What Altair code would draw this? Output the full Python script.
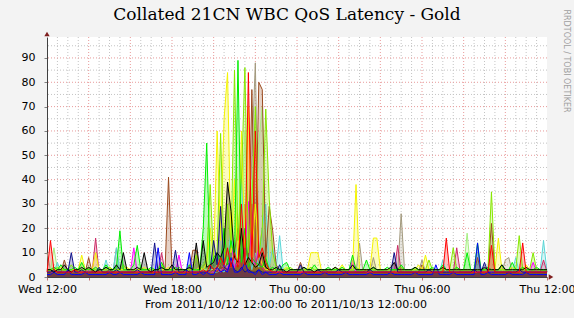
import altair as alt
import pandas as pd

title_text = "Collated 21CN WBC QoS Latency - Gold"
footer_text = "From 2011/10/12 12:00:00 To 2011/10/13 12:00:00"
side_text = "RRDTOOL / TOBI OETIKER"
x_tick_hours = [0, 6, 12, 18, 24]
x_tick_labels = ["Wed 12:00", "Wed 18:00", "Thu 00:00", "Thu 06:00", "Thu 12:00"]
x_small_ticks = [0, 2, 4, 6, 8, 10, 12, 14, 16, 18, 20, 22, 24]
y_ticks = [0, 10, 20, 30, 40, 50, 60, 70, 80, 90]
y_minor = [5, 15, 25, 35, 45, 55, 65, 75, 85, 95]
x_minor = [0.5, 1, 1.5, 2.5, 3, 3.5, 4.5, 5, 5.5, 6.5, 7, 7.5, 8.5, 9, 9.5, 10.5, 11, 11.5,
           12.5, 13, 13.5, 14.5, 15, 15.5, 16.5, 17, 17.5, 18.5, 19, 19.5, 20.5, 21, 21.5,
           22.5, 23, 23.5]
x_major = [2, 4, 6, 8, 10, 12, 14, 16, 18, 20, 22]
step_minutes = 10
Y_MAX = 98.6

# latency series, one value per 10 minutes from Wed 12:00 to Thu 12:00
khaki = [10,3,2,2,2,2,2,3,2,2,2,2,2,2,2,2,3,2,2,2,12,2,2,2,
         2,2,2,2,2,3,2,2,2,2,2,2,2,2,2,2,2,2,2,2,2,3,2,2,
         3,5,8,20,4,15,5,20,6,30,8,50,88,10,20,6,5,3,2,2,2,2,2,2,
         2,2,2,2,2,2,2,2,2,2,2,2,2,2,2,2,2,2,14,2,2,2,8,2,
         2,2,2,2,2,2,26,2,2,2,2,2,7,2,2,2,2,2,2,2,2,2,2,2,
         2,2,2,2,2,2,2,2,2,2,2,2,7,8,2,2,2,2,2,2,2,2,2,2,
         2]
palegreen = [3,3,12,3,3,3,3,3,3,3,3,3,3,3,3,3,3,3,3,3,3,3,3,3,
             3,3,3,3,3,3,3,3,3,3,3,3,3,3,3,3,3,3,3,10,3,3,3,3,
             3,3,5,3,8,4,15,5,25,60,6,40,10,55,70,10,3,3,3,3,3,3,3,3,
             3,3,3,3,3,3,3,3,3,3,3,3,3,3,3,3,3,3,3,3,3,3,3,3,
             3,3,3,3,3,3,3,3,3,3,3,3,3,3,3,3,3,3,3,3,3,3,3,3,
             3,18,3,3,3,3,3,3,3,3,3,3,3,3,3,3,3,3,3,3,3,3,3,3,
             3]
cyan = [2,2,2,6,2,2,2,2,2,2,2,2,2,2,2,2,2,7,2,2,12,2,2,2,
        2,2,2,2,2,2,2,2,2,2,2,2,2,2,2,2,2,2,2,2,2,2,2,2,
        2,2,3,2,5,20,4,15,41,5,12,3,10,4,20,30,4,12,4,17,3,2,2,2,
        2,2,2,2,2,2,2,2,2,2,2,2,2,2,2,2,2,2,2,2,2,2,2,2,
        2,2,2,2,2,2,2,2,2,2,2,2,2,2,2,2,2,2,7,2,2,2,2,2,
        2,2,2,2,2,2,2,2,2,2,2,2,2,2,2,8,2,2,2,2,2,2,2,15,
        2]
magenta = [2,2,2,2,2,2,2,2,2,2,2,2,3,2,2,2,2,2,2,2,2,2,2,2,
           2,12,2,2,2,2,2,2,2,2,2,2,2,2,9,2,2,2,2,2,2,2,2,2,
           2,3,2,5,3,15,4,6,8,10,31,8,5,12,4,2,2,2,2,2,2,2,2,2,
           2,2,2,2,2,2,2,2,2,2,2,2,2,2,2,2,7,2,2,2,2,2,2,2,
           2,2,2,2,2,2,2,2,2,2,2,2,2,2,2,2,2,2,2,2,2,2,2,2,
           2,2,2,2,2,2,2,2,2,2,2,2,2,2,2,2,2,2,2,2,6,2,2,2,
           2]
crimson = [2,2,2,2,2,2,2,2,2,2,2,2,2,2,16,2,2,2,2,2,2,2,2,2,
           2,2,2,2,2,2,2,2,2,10,2,2,2,2,2,2,2,2,2,2,2,2,2,2,
           2,3,2,4,2,6,3,8,3,20,4,30,5,10,4,2,2,2,2,2,2,2,2,2,
           2,2,2,2,2,2,2,2,2,2,2,2,2,2,2,2,2,2,2,2,2,2,2,2,
           2,2,2,2,2,13,2,2,2,2,2,2,2,2,2,2,2,2,2,2,2,2,12,2,
           2,2,2,2,2,2,2,2,2,2,2,2,2,2,2,2,2,2,2,2,2,2,2,7,
           2]
brown = [2,2,2,2,2,7,2,2,2,3,2,2,8,2,2,2,2,2,3,2,2,2,2,2,
         2,2,2,2,2,2,2,2,2,2,3,41,3,2,2,2,2,2,11,11,2,2,2,2,
         3,2,5,3,6,4,10,20,4,15,6,77,10,80,77,8,29,19,5,3,2,2,2,2,
         2,6,2,2,2,2,2,2,3,2,2,2,2,2,2,2,2,2,2,2,3,2,2,2,
         2,2,2,2,2,2,2,2,2,2,2,2,5,2,2,2,2,2,2,2,2,2,2,2,
         2,2,2,2,8,2,2,2,22,2,2,2,2,2,2,2,2,2,2,2,2,2,2,2,
         2]
yellow = [3,3,3,3,4,3,3,3,3,3,9,3,3,3,10,3,3,3,4,3,3,3,3,4,
          3,3,3,3,4,3,3,3,3,3,3,4,3,3,3,3,3,3,3,3,4,3,6,20,
          8,60,15,65,84,10,40,6,60,12,70,8,30,10,5,3,3,3,3,3,3,4,3,3,
          3,3,3,3,10,10,10,3,3,3,3,3,3,5,3,3,3,38,3,3,3,3,16,16,
          3,3,3,3,3,3,3,3,3,3,3,5,3,9,3,3,3,3,4,3,3,3,3,3,
          3,3,3,3,3,3,3,3,3,3,16,3,3,3,4,3,3,3,5,3,3,3,3,3,
          3]
lime = [3,3,3,4,3,3,3,5,3,3,3,3,4,3,3,3,3,3,4,3,3,3,5,3,
        3,3,3,4,3,3,3,3,3,5,3,3,3,3,4,3,3,3,3,9,3,5,8,38,
        6,10,59,8,30,12,85,15,40,86,10,30,70,8,20,69,32,10,4,3,3,3,4,3,
        3,3,3,3,4,3,3,3,3,3,3,4,3,3,3,3,3,4,3,3,3,3,3,3,
        3,3,3,3,3,3,4,3,3,3,3,3,3,3,7,3,3,3,3,3,3,12,3,3,
        3,3,3,3,3,3,3,3,35,3,3,3,3,3,3,3,17,3,3,3,10,3,3,3,
        3]
green = [3,3,4,3,5,3,3,3,4,3,6,3,3,3,4,3,3,5,3,3,4,19,3,3,
         3,5,13,3,3,3,4,3,3,6,3,3,3,4,3,3,3,5,3,3,3,20,55,4,
         8,10,6,20,5,15,8,89,6,20,4,8,6,5,4,8,3,4,3,3,5,6,3,3,
         3,3,4,3,3,5,3,3,3,4,3,3,3,4,3,3,9,3,3,3,7,3,4,3,
         3,3,4,3,3,3,5,3,3,3,4,3,3,3,3,4,3,3,5,3,3,3,4,3,
         3,10,3,3,14,3,3,4,3,3,3,5,3,3,6,3,3,4,3,3,3,4,3,3,
         3]
navy = [2,2,3,2,2,2,2,10,2,2,3,2,2,2,2,4,2,2,2,2,3,2,2,2,
        2,2,3,2,2,2,2,14,2,2,2,2,2,11,2,2,3,2,2,2,2,2,2,3,
        15,5,29,4,3,6,3,2,4,2,3,2,2,3,2,2,2,2,2,5,2,2,2,2,
        2,5,2,2,2,2,3,2,2,2,2,2,3,2,2,2,2,2,2,2,2,3,2,2,
        2,2,2,2,10,2,2,2,2,2,2,2,2,2,3,2,2,2,2,2,2,2,2,2,
        2,2,2,3,2,2,6,2,2,2,2,2,2,2,2,2,3,2,2,2,2,2,2,2,
        2]
blue = [1,1,2,1,1,1,3,1,1,1,1,2,1,1,1,1,1,1,2,1,1,2,1,1,
        1,1,1,2,1,1,1,1,12,1,1,1,1,2,1,1,1,10,1,1,2,1,2,1,
        1,4,2,3,2,8,2,2,3,6,2,2,1,3,1,2,1,1,1,2,1,1,1,1,
        1,1,2,1,1,1,1,1,2,1,1,1,1,1,2,1,1,1,1,1,1,2,1,1,
        1,1,1,2,1,1,1,1,1,1,2,1,1,1,1,1,5,1,1,1,1,2,1,1,
        1,1,1,1,14,1,1,2,1,1,1,1,1,2,1,1,1,1,2,1,1,1,1,1,
        1]
black = [3,3,2,3,3,5,3,2,3,3,4,3,4,3,2,3,3,4,3,3,5,3,10,3,
         3,3,4,3,10,3,2,3,3,4,3,3,5,3,3,3,3,4,3,14,3,15,4,5,
         6,10,8,12,39,27,8,6,20,5,8,6,4,5,10,4,3,3,4,3,3,2,3,3,
         3,3,4,3,3,2,3,3,3,3,3,4,3,3,3,3,5,3,3,3,3,3,4,3,
         3,3,3,4,6,3,3,3,3,3,4,3,3,3,3,3,3,3,4,3,3,3,3,3,
         3,3,3,3,3,3,4,3,3,3,3,5,3,3,3,3,3,3,4,3,3,3,3,3,
         3]
red = [2,15,3,2,2,2,2,2,3,2,2,2,2,2,2,2,2,2,2,2,2,2,2,2,
       2,2,2,2,2,2,2,2,2,2,2,2,2,2,2,2,2,2,2,2,2,3,2,5,
       3,4,8,5,12,4,10,4,30,5,84,6,60,8,12,6,3,2,2,2,2,2,2,2,
       2,2,2,2,2,2,2,2,2,2,2,2,2,2,2,2,2,2,2,2,2,2,2,2,
       2,2,2,2,2,2,2,2,2,2,2,2,2,2,2,2,2,2,2,16,2,2,2,2,
       2,2,2,2,2,2,2,2,13,2,2,2,2,2,2,2,2,14,2,2,2,2,2,2,
       2]

series_names = ["s01 khaki", "s02 palegreen", "s03 cyan", "s04 magenta", "s05 crimson",
                "s06 brown", "s07 yellow", "s08 lime", "s09 green", "s10 navy",
                "s11 blue", "s12 black", "s13 red"]
series_colors = ["#a39a7e", "#a6ee80", "#5ad6d6", "#ff00ff", "#cc2a66",
                 "#9a4a1e", "#f4f400", "#86e800", "#00ee00", "#10108a",
                 "#0000ff", "#000000", "#ff0000"]
series_values = [khaki, palegreen, cyan, magenta, crimson, brown, yellow, lime,
                 green, navy, blue, black, red]

rows = []
for name, vals in zip(series_names, series_values):
    for i, v in enumerate(vals):
        rows.append({"series": name, "hour": i * step_minutes / 60.0, "value": v})
df = pd.DataFrame(rows)

x_scale = alt.Scale(domain=[0, 24], nice=False, zero=False)
y_scale = alt.Scale(domain=[0, Y_MAX], nice=False)
color_scale = alt.Scale(domain=series_names, range=series_colors)

label_expr = ("datum.value % 6 == 0 ? " + str(x_tick_labels) + "[datum.value / 6] : ''")

x_axis = alt.Axis(values=x_small_ticks, labelExpr=label_expr, title=None, grid=False,
                  tickSize=3, tickColor="#c07070", domainColor="#404040",
                  labelFont="DejaVu Sans", labelFontSize=11, labelColor="#000000",
                  labelPadding=3, labelOverlap=False, labelFlush=False)
y_axis = alt.Axis(values=y_ticks, title=None, grid=False, tickSize=3,
                  tickColor="#808080", domainColor="#404040",
                  labelFont="DejaVu Sans", labelFontSize=11, labelColor="#000000",
                  labelPadding=9)


def X(field):
    return alt.X(field, scale=x_scale, axis=x_axis)


def Y(field):
    return alt.Y(field, scale=y_scale, axis=y_axis, stack=None)


grid_minor_x = alt.Chart(pd.DataFrame({"h": x_minor})).mark_rule(
    color="#c4c4c4", strokeDash=[1, 2], strokeWidth=1
).encode(x=X("h:Q"))
grid_major_x = alt.Chart(pd.DataFrame({"h": x_major})).mark_rule(
    color="#e89a9a", strokeDash=[1, 2], strokeWidth=1
).encode(x=X("h:Q"))
grid_minor_y = alt.Chart(pd.DataFrame({"v": y_minor})).mark_rule(
    color="#c4c4c4", strokeDash=[1, 2], strokeWidth=1
).encode(y=Y("v:Q"))
grid_major_y = alt.Chart(pd.DataFrame({"v": y_ticks[1:]})).mark_rule(
    color="#e89a9a", strokeDash=[1, 2], strokeWidth=1
).encode(y=Y("v:Q"))

areas = alt.Chart(df).mark_area(interpolate="linear", fillOpacity=0.25).encode(
    x=X("hour:Q"), y=Y("value:Q"),
    color=alt.Color("series:N", scale=color_scale, legend=None),
)
lines = alt.Chart(df).mark_line(interpolate="linear", strokeWidth=1).encode(
    x=X("hour:Q"), y=Y("value:Q"),
    color=alt.Color("series:N", scale=color_scale, legend=None),
)

arrow_up = alt.Chart(pd.DataFrame({"h": [0], "v": [Y_MAX]})).mark_point(
    shape="triangle-up", filled=True, size=28, color="#7f1f1f", opacity=1, yOffset=-3
).encode(x=X("h:Q"), y=Y("v:Q"))
arrow_right = alt.Chart(pd.DataFrame({"h": [24], "v": [0]})).mark_point(
    shape="triangle-right", filled=True, size=28, color="#7f1f1f", opacity=1, xOffset=4
).encode(x=X("h:Q"), y=Y("v:Q"))

title = alt.Chart(pd.DataFrame({"t": [title_text]})).mark_text(
    font="DejaVu Serif", fontSize=17, align="center", baseline="alphabetic", color="#000000"
).encode(x=alt.value(240), y=alt.value(-17), text="t:N")
footer = alt.Chart(pd.DataFrame({"t": [footer_text]})).mark_text(
    font="DejaVu Sans", fontSize=11, align="center", baseline="alphabetic", color="#000000"
).encode(x=alt.value(239), y=alt.value(271), text="t:N")
side = alt.Chart(pd.DataFrame({"t": [side_text]})).mark_text(
    font="DejaVu Sans", fontSize=8, align="center", baseline="middle", color="#a0a0a0", angle=90
).encode(x=alt.value(519), y=alt.value(24), text="t:N")

chart = alt.layer(
    grid_minor_x, grid_minor_y, grid_major_x, grid_major_y,
    areas, lines, arrow_up, arrow_right, title, footer, side
).properties(
    width=500, height=240,
    padding={"left": 47, "top": 37, "right": 27, "bottom": 41},
    autosize=alt.AutoSizeParams(type="none"),
).configure(background="#f3f3f3").configure_view(fill="white", stroke=None)

chart.save("out.html", embed_options={"renderer": "svg", "actions": False})
